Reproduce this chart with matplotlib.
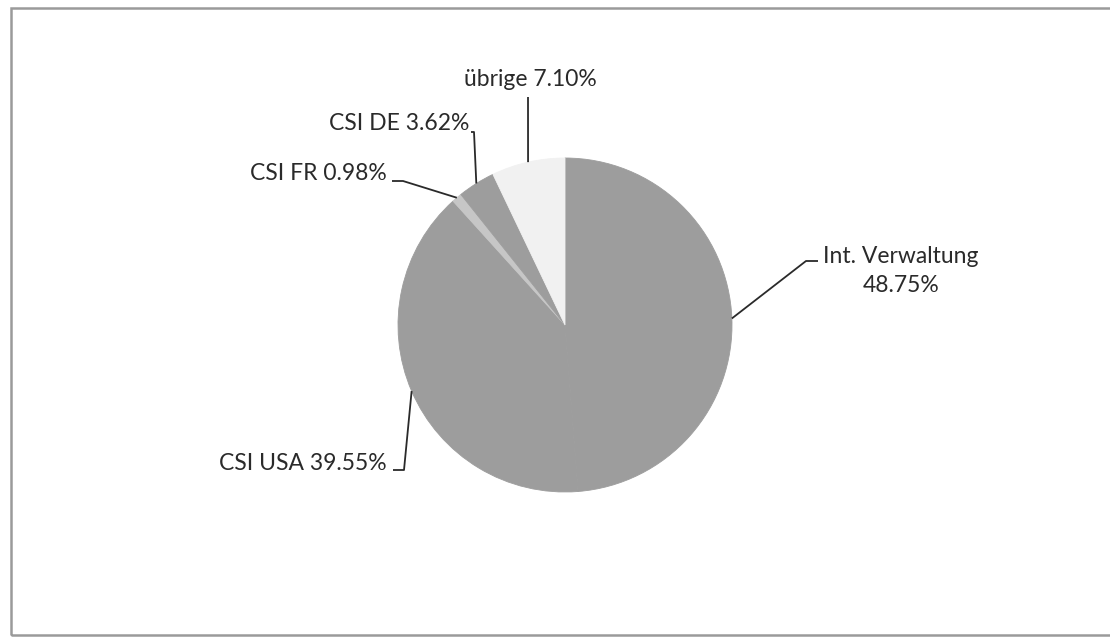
import numpy as np
import matplotlib.pyplot as plt
from matplotlib.patches import Rectangle

# shares in percent, clockwise from 12 o'clock
labels = ["Int. Verwaltung", "CSI USA", "CSI FR", "CSI DE", "übrige"]
shares = [48.75, 39.55, 0.98, 3.62, 7.10]
colors = ["#9d9d9d", "#9d9d9d", "#c6c6c6", "#9d9d9d", "#f1f1f1"]

W, H = 1110, 637
fig = plt.figure(figsize=(W / 100, H / 100), dpi=100)
ax = fig.add_axes([0, 0, 1, 1])

cx, cy, r = 565, H - 325, 167
wedges, _ = ax.pie(shares, colors=colors, startangle=90, counterclock=False,
                   center=(cx, cy), radius=r, frame=True)
# hide the antialiasing seams between same-coloured slices
for w in wedges:
    w.set_edgecolor(w.get_facecolor())
    w.set_linewidth(0.6)
ax.set_xlim(0, W)
ax.set_ylim(0, H)
ax.set_aspect("equal")
ax.axis("off")

# label layout: text pos (top-down px), alignment, elbow points of leader
layout = {
    "Int. Verwaltung": dict(xy=(823, 271), ha="left", pts=[(806, 261), (818, 261)], nl=True),
    "CSI USA": dict(xy=(387, 463), ha="right", pts=[(404, 470), (393, 470)]),
    "CSI FR": dict(xy=(387, 173), ha="right", pts=[(403, 181), (392, 181)]),
    "CSI DE": dict(xy=(469, 124), ha="right", pts=[(474, 132), (471, 132)]),
    "übrige": dict(xy=(530, 80), ha="center", pts=[(528, 97)]),
}

for w, lab, val in zip(wedges, labels, shares):
    L = layout[lab]
    mid = np.deg2rad((w.theta1 + w.theta2) / 2)
    ax0 = cx + r * np.cos(mid)
    ay0 = cy + r * np.sin(mid)
    xs = [ax0] + [p[0] for p in L["pts"]]
    ys = [ay0] + [H - p[1] for p in L["pts"]]
    ax.plot(xs, ys, color="#2a2a2a", lw=1.3, solid_capstyle="butt")
    txt = f"{lab}\n{val:.2f}%" if L.get("nl") else f"{lab} {val:.2f}%"
    ax.text(L["xy"][0], H - L["xy"][1], txt, ha=L["ha"], va="center",
            fontsize=16.5, family="Lato", color="#2a2a2a",
            multialignment="center", linespacing=1.45)

# chart frame
ax.add_patch(Rectangle((11, H - 635), 1110, 627, fill=False,
                       edgecolor="#9a9a9a", lw=1.8, clip_on=False))

fig.savefig("out.png", dpi=100)
